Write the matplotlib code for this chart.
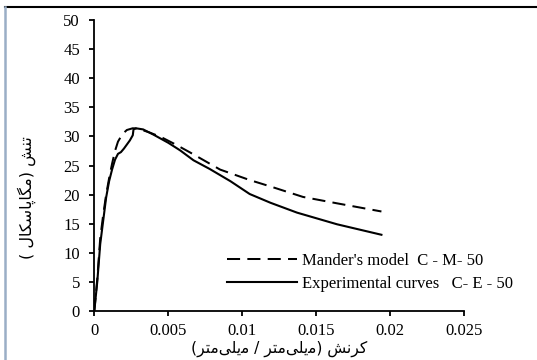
import numpy as np
import matplotlib.pyplot as plt
from matplotlib.lines import Line2D

# Mander's model C-M-50 (dashed)
mander_strain = [0, 0.0002, 0.0004, 0.0006, 0.0008, 0.001, 0.0012, 0.0014, 0.0016,
                 0.0019, 0.0022, 0.0026, 0.003, 0.0037, 0.0045, 0.0055, 0.0065,
                 0.0085, 0.0105, 0.0119, 0.0141, 0.0164, 0.0194]
mander_stress = [0, 5.5, 12.5, 16.5, 20.0, 22.8, 25.3, 27.5, 29.1,
                 30.4, 31.1, 31.4, 31.3, 30.7, 29.9, 28.6, 27.2,
                 24.3, 22.5, 21.4, 19.6, 18.5, 17.1]

# Experimental curves C-E-50 (solid)
exp_strain = [0, 0.0002, 0.0004, 0.0006, 0.0008, 0.001, 0.0012, 0.0014, 0.0016,
              0.0018, 0.002, 0.0022, 0.0024, 0.0026, 0.00265, 0.0028, 0.0033,
              0.004, 0.005, 0.0058, 0.0067, 0.0078, 0.0092, 0.0105, 0.0119,
              0.0137, 0.0164, 0.0194]
exp_stress = [0, 5.0, 11.5, 15.5, 19.5, 22.3, 24.3, 26.0, 27.0,
              27.3, 27.9, 28.6, 29.3, 30.2, 31.2, 31.4, 31.2,
              30.3, 28.9, 27.6, 25.9, 24.4, 22.3, 20.1, 18.6,
              16.9, 14.9, 13.1]

x_ticks = [0, 0.005, 0.01, 0.015, 0.02, 0.025]
x_labels = ["0", "0.005", "0.01", "0.015", "0.02", "0.025"]
y_ticks = list(range(0, 55, 5))

# Persian labels, pre-shaped (presentation forms, visual order) since matplotlib has no bidi
mili_metr = "\uFEAE\uFE98\uFEE3" + "\uFBFD\uFEE0\uFBFE\uFEE3"   # میلی‌متر
korensh = "\uFEB6\uFEE7\uFEAE\uFB90"                             # کرنش
xlabel = "(" + mili_metr + " / " + mili_metr + ") " + korensh
megapascal = "\uFEDD\uFE8E\uFB91\uFEB3\uFE8E\uFB58\uFE8E\uFB95\uFEE3"  # مگاپاسکال
tanesh = "\uFEB6\uFEE8\uFE97"                                         # تنش
ylabel = "( " + megapascal + ") " + tanesh

W, H = 537, 360
fig = plt.figure(figsize=(W / 100, H / 100), dpi=100)
ax = fig.add_axes([94.3 / W, 1 - 311 / H, 370 / W, 291 / H])

ax.plot(mander_strain, mander_stress, color="black", lw=1.45, dashes=(6.5, 3.6),
        label="Mander's model  C - M- 50")
ax.plot(exp_strain, exp_stress, color="black", lw=1.5,
        label="Experimental curves   C- E - 50")

ax.set_xlim(0, 0.025)
ax.set_ylim(0, 50)
ax.set_xticks(x_ticks)
ax.set_xticklabels(x_labels)
ax.set_yticks(y_ticks)

for s in ["top", "right"]:
    ax.spines[s].set_visible(False)
for s in ["left", "bottom"]:
    ax.spines[s].set_linewidth(1.3)
ax.tick_params(direction="out", length=3.8, width=1.3, pad=4.5,
               labelsize=12, labelfontfamily="Liberation Serif")
ax.tick_params(axis="y", pad=6.5)

ax.set_xlabel(xlabel, family=["DejaVu Sans"], fontsize=11.2, labelpad=1.5)
ax.set_ylabel(ylabel, family=["DejaVu Sans"], fontsize=11.5, va="center")
ax.yaxis.set_label_coords((27 - 94.3) / 370, (311 - 198) / 291)

leg = ax.legend(loc="upper left", bbox_to_anchor=(227 / W, 1 - 253 / H),
                bbox_transform=fig.transFigure, frameon=False,
                prop={"family": "Liberation Serif", "size": 12},
                handlelength=4.2, handletextpad=0.3, labelspacing=0.4,
                borderpad=0, borderaxespad=0)

# page border lines
fig.add_artist(Line2D([5 / W, 1], [1 - 7 / H, 1 - 7 / H], color="black", lw=1.5,
                      transform=fig.transFigure))
fig.add_artist(Line2D([4.5 / W, 4.5 / W], [0, 1 - 7 / H], color="#9aaec6", lw=1.8,
                      transform=fig.transFigure))

fig.savefig("out.png", dpi=100)
